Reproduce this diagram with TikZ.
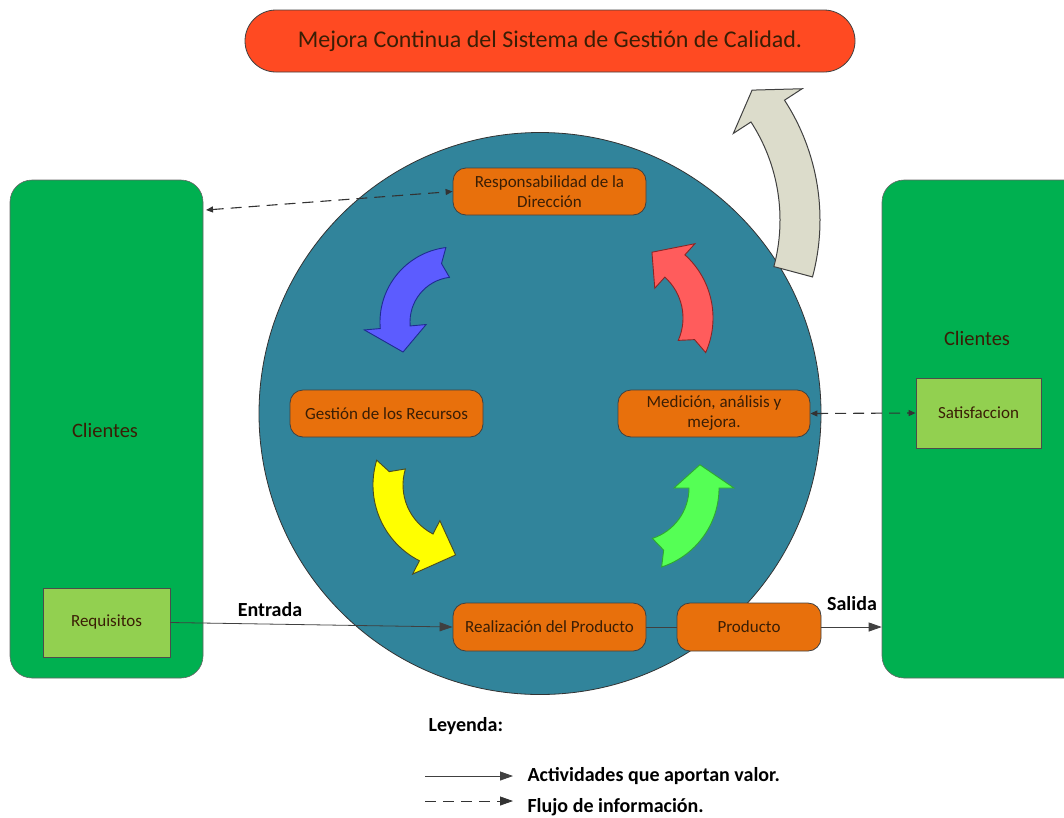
\documentclass[tikz,border=0pt]{standalone}
\usepackage{fontspec}
\setmainfont{Carlito}
\usetikzlibrary{arrows.meta}

\definecolor{ringblue}{HTML}{31849B}
\definecolor{clientgreen}{HTML}{00B050}
\definecolor{lightgreen}{HTML}{92D050}
\definecolor{procorange}{HTML}{E8700C}
\definecolor{bannerred}{HTML}{FF4A22}
\definecolor{textdark}{HTML}{3A1E05}
\definecolor{arrblue}{HTML}{5C5CFF}
\definecolor{arrblueline}{HTML}{1F2D8F}
\definecolor{arrred}{HTML}{FF5C5C}
\definecolor{arrredline}{HTML}{8B2525}
\definecolor{arryellow}{HTML}{FFFF00}
\definecolor{arryellowline}{HTML}{4A4A20}
\definecolor{arrgreen}{HTML}{55FF55}
\definecolor{arrgreenline}{HTML}{2FA82F}
\definecolor{arrgrey}{HTML}{DCDCCB}
\definecolor{arrgreyline}{HTML}{404040}

% Curved block arrow around a centre:
% #1 style, #2 centre, #3 mid radius, #4 half band width, #5 half head width,
% #6 tail angle, #7 head base angle, #8 tip angle
\newcommand\bentnotch{6}
\newcommand\bentarrow[8]{%
  \filldraw[#1, shift={#2}, line join=miter]
    (#6:{#3+#4}) arc[start angle=#6, end angle=#7, radius={#3+#4}]
    -- (#7:{#3+#5}) -- (#8:#3) -- (#7:{#3-#5}) -- (#7:{#3-#4})
    arc[start angle=#7, end angle=#6, radius={#3-#4}]
    -- (#6+\bentnotch:#3) -- cycle;}

\tikzset{
  proc/.style={draw=black!75, line width=0.8pt, fill=procorange, rounded corners=13pt,
    minimum height=47pt, align=center, text=textdark, inner sep=2pt,
    font=\fontsize{17}{20}\selectfont},
  client/.style={draw=black!60, line width=0.6pt, fill=clientgreen, rounded corners=22pt},
  smallbox/.style={draw=black!70, line width=0.8pt, fill=lightgreen, text=textdark,
    font=\fontsize{17}{20}\selectfont},
  flow/.style={draw=black!75, line width=0.8pt, -{Triangle[length=13pt,width=9pt]}},
  info/.style={draw=black!80, line width=1.1pt, dash pattern=on 11pt off 7pt,
    {Triangle[length=7pt,width=6pt]}-{Triangle[length=7pt,width=6pt]}},
  label/.style={font=\bfseries\fontsize{20}{24}\selectfont, text=black},
}

\begin{document}
\begin{tikzpicture}[x=1pt,y=1pt]
\useasboundingbox (0,0) rectangle (1064,-817);
\clip (0,0) rectangle (1064,-817);

% banner
\node[draw=black!75, line width=0.8pt, fill=bannerred, rounded corners=31pt,
  minimum width=610pt, minimum height=62pt, text=textdark,
  font=\fontsize{24}{28}\selectfont] (banner) at (550,-41)
  {Mejora Continua del Sistema de Gestión de Calidad.};

% customer columns
\node[client, minimum width=193pt, minimum height=498pt] (cliL) at (106.5,-429) {};
\node[client, minimum width=208pt, minimum height=498pt] (cliR) at (986,-429) {};
\node[text=textdark, font=\fontsize{20.5}{24}\selectfont] (cliLt) at (105,-430) {Clientes};
\node[text=textdark, font=\fontsize{20.5}{24}\selectfont] (cliRt) at (977,-338) {Clientes};

% process circle
\filldraw[fill=ringblue, draw=black!80, line width=0.8pt] (540,-413.5) circle[radius=281];

% improvement arrow leaving the circle
\renewcommand\bentnotch{0}
\bentarrow{fill=arrgrey, draw=arrgreyline, line width=1pt}{(600,-220)}{200}{20}{41}{-15}{33}{40.5}

% cycle arrows
\renewcommand\bentnotch{6}
\bentarrow{fill=arrblue, draw=arrblueline, line width=0.9pt}{(455,-322)}{60}{15}{31}{97}{185}{210}
\bentarrow{fill=arryellow, draw=arryellowline, line width=0.9pt}{(458,-485)}{70}{15}{30}{163}{243}{268}
\bentarrow{fill=arrgreen, draw=arrgreenline, line width=0.9pt}{(636,-488)}{68}{15}{30}{-72}{0}{20}
\bentarrow{fill=arrred, draw=arrredline, line width=0.9pt}{(628,-318)}{70}{15}{30}{-24}{48}{70}

% processes
\node[proc, minimum width=193pt] (resp) at (549.5,-191.5) {Responsabilidad de la\\Dirección};
\node[proc, minimum width=193pt] (gest) at (386.5,-413.5) {Gestión de los Recursos};
\node[proc, minimum width=192pt] (med) at (714,-413.5) {Medición, análisis y\\mejora.};
\node[proc, minimum width=193pt, minimum height=48pt] (real) at (549.5,-627) {Realización del Producto};
\node[proc, minimum width=144pt, minimum height=48pt] (prod) at (749,-627) {Producto};

% inputs and outputs
\node[smallbox, minimum width=127pt, minimum height=69pt] (req) at (106.5,-622.5) {Requisitos};
\node[smallbox, minimum width=125pt, minimum height=70pt] (sat) at (978.5,-413) {Satisfaccion};

% connectors
\coordinate (cliLtop) at (206,-210);
\draw[info] (cliLtop) -- (resp.west);
\draw[info] (med.east) -- (sat.west);
\draw[flow] (req.east) -- (real.west);
\draw[draw=black!75, line width=0.8pt] (real.east) -- (prod.west);
\draw[flow] (prod.east) -- (cliR.west |- prod.east);
\node[label] (entrada) at (270,-610) {Entrada};
\node[label] (salida) at (852,-604) {Salida};

% legend
\node[label, anchor=west] (ley) at (425,-726) {Leyenda:};
\coordinate (l1a) at (425,-776);
\coordinate (l1b) at (513,-776);
\coordinate (l2a) at (425,-801);
\coordinate (l2b) at (513,-801);
\draw[flow] (l1a) -- (l1b);
\draw[draw=black!80, line width=0.8pt, dash pattern=on 11pt off 7pt,
  -{Triangle[length=13pt,width=9pt]}] (l2a) -- (l2b);
\node[label, anchor=west] (leg1) at (524,-776) {Actividades que aportan valor.};
\node[label, anchor=west] (leg2) at (524,-807) {Flujo de información.};
\end{tikzpicture}
\end{document}
